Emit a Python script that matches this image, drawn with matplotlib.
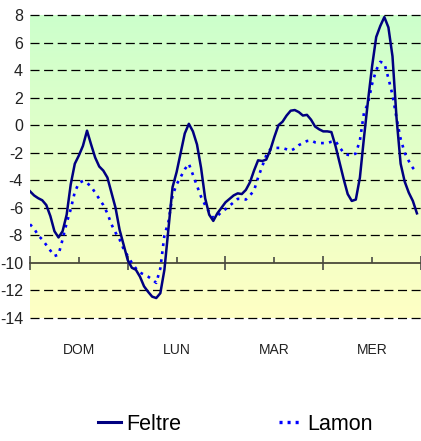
import numpy as np
import matplotlib
matplotlib.use("Agg")
import matplotlib.pyplot as plt
from matplotlib.lines import Line2D
from matplotlib.colors import LinearSegmentedColormap
import matplotlib.transforms as mtransforms

plt.rcParams['lines.scale_dashes'] = False
FONT = ['Liberation Sans Narrow', 'Liberation Sans', 'DejaVu Sans']

# ---- data (hourly, 4 days) ----
days = ["DOM", "LUN", "MAR", "MER"]
y_ticks = [8, 6, 4, 2, 0, -2, -4, -6, -8, -10, -12, -14]

feltre = [-4.8, -5.1, -5.3, -5.45, -5.8, -6.6, -7.7, -8.15, -7.7, -6.5,
          -4.3, -2.8, -2.2, -1.5, -0.4, -1.4, -2.35, -3.0, -3.3, -3.8,
          -4.9, -6.0, -7.6, -8.7, -9.8, -10.35, -10.5, -11.0, -11.7, -12.1,
          -12.45, -12.55, -12.2, -10.5, -7.5, -4.5, -3.4, -2.0, -0.6, 0.1,
          -0.45, -1.4, -3.1, -5.3, -6.5, -6.95, -6.4, -6.0, -5.6, -5.35,
          -5.1, -4.95, -5.0, -4.7, -4.15, -3.3, -2.55, -2.6, -2.5, -1.8,
          -0.85, 0.0, 0.25, 0.7, 1.05, 1.1, 0.95, 0.7, 0.75, 0.4,
          -0.1, -0.3, -0.45, -0.45, -0.5, -1.5, -2.7, -3.9, -5.0, -5.5,
          -5.4, -3.8, -0.9, 1.8, 4.3, 6.4, 7.2, 7.85, 7.1, 5.0,
          0.5, -2.8, -4.1, -4.9, -5.5, -6.4]

lamon = [-7.2, -7.5, -8.0, -8.3, -8.7, -9.1, -9.5, -9.4, -8.3, -7.1,
         -6.1, -4.85, -4.2, -4.05, -4.2, -4.45, -4.9, -5.35, -5.8, -6.4,
         -7.2, -7.8, -8.3, -9.0, -9.5, -10.0, -10.4, -10.7, -10.85, -11.0,
         -11.2, -11.45, -10.4, -8.0, -7.0, -5.1, -4.3, -3.76, -3.2, -2.8,
         -3.6, -4.4, -5.2, -5.8, -6.3, -6.74, -6.6, -6.3, -6.1, -5.85,
         -5.6, -5.35, -5.35, -5.4, -5.1, -4.75, -3.8, -3.0, -2.2, -1.75,
         -1.65, -1.65, -1.66, -1.75, -1.85, -1.7, -1.45, -1.3, -1.15, -1.1,
         -1.25, -1.3, -1.3, -1.3, -1.2, -1.15, -1.6, -2.0, -2.15, -2.2,
         -2.05, -1.1, 0.9, 1.6, 3.0, 4.0, 4.6, 4.5, 3.4, 2.2,
         0.5, -1.0, -2.0, -2.6, -3.1, -3.45]

hours = np.arange(len(feltre))

W, H = 421, 441
fig = plt.figure(figsize=(W / 100, H / 100), dpi=100)
ax = fig.add_axes([30 / W, 123 / H, 391 / W, 303 / H])

xmax = 96 * 391 / 392
ymin, ymax = -14, 8
ax.set_xlim(0, xmax)
ax.set_ylim(ymin, ymax)

# background gradient
cmap = LinearSegmentedColormap.from_list("bg", ["#ffffc4", "#ccffcc"])
grad = np.linspace(0, 1, 256).reshape(-1, 1)
ax.imshow(grad, cmap=cmap, aspect='auto', origin='lower',
          extent=[0, xmax, ymin, ymax], zorder=0)

# dashed grid lines
for v in y_ticks:
    if v == -10:
        continue
    ax.axhline(v, color='black', lw=0.9, linestyle=(0, (6.5, 3.3)),
               zorder=1, clip_on=False)

# series
ax.plot(hours, lamon, color='#0000ff', lw=1.9, linestyle=(0, (2.0, 3.8)),
        zorder=3, label='Lamon')
ax.plot(hours, feltre, color='#000080', lw=1.8, zorder=4, label='Feltre')

# axes styling
for s in ['left', 'right', 'top']:
    ax.spines[s].set_visible(False)
ax.spines['bottom'].set_position(('data', -10))
ax.spines['bottom'].set_color('#4a4a3a')
ax.spines['bottom'].set_linewidth(1.3)
ax.spines['bottom'].set_zorder(2)

ax.set_xticks([0, 24, 48, 72, 96])
ax.set_xticklabels([])
ax.set_xticks([12, 36, 60, 84], minor=True)
ax.tick_params(axis='x', which='major', direction='inout', length=10,
               width=1.1, color='#3a3a3a')
ax.tick_params(axis='x', which='minor', direction='in', length=4.5,
               width=1.1, color='#3a3a3a')

ax.set_yticks(y_ticks)
ax.set_yticklabels([str(v) for v in y_ticks], fontfamily=FONT,
                   fontsize=11.5, color='#222222')
ax.tick_params(axis='y', length=0, pad=5)

trans = mtransforms.blended_transform_factory(ax.transData, ax.transAxes)
for i, d in enumerate(days):
    ax.text(12 + 24 * i, -32 / 303, d, transform=trans, ha='center',
            va='center', fontfamily=FONT, fontsize=10, color='#222222')

# legend
h1 = Line2D([], [], color='#000080', lw=2.2)
h2 = Line2D([], [], color='#0000ff', lw=2.4, linestyle=(0, (2.2, 3.6)))
common = dict(frameon=False, borderpad=0, borderaxespad=0,
              handlelength=1.05, handletextpad=0.25, loc='center left',
              prop={'family': FONT, 'size': 15.5})
fig.legend([h1], ['Feltre'], bbox_to_anchor=(98 / W, 1 - 424 / H), **common)
fig.legend([h2], ['Lamon'], bbox_to_anchor=(279 / W, 1 - 424 / H), **common)

fig.savefig("out.png", dpi=100)
